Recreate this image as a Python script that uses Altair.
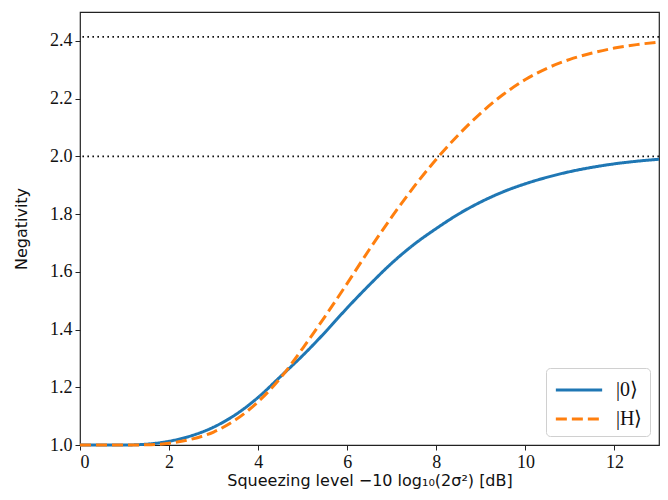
import altair as alt
import pandas as pd

x_vals = [0, 1, 1.5, 2, 2.5, 3, 3.5, 4, 4.5, 5, 5.5, 6, 6.5, 7, 7.5, 8, 8.5, 9, 9.5, 10, 10.5, 11, 11.5, 12, 12.5, 13]
zero_vals = [1.0, 1.0, 1.003, 1.013, 1.032, 1.062, 1.106, 1.165, 1.237, 1.31, 1.39, 1.475, 1.555, 1.63, 1.695, 1.75, 1.80, 1.842, 1.877, 1.905, 1.928, 1.947, 1.962, 1.974, 1.983, 1.99]
h_vals = [1.0, 1.0, 1.001, 1.006, 1.02, 1.045, 1.088, 1.15, 1.232, 1.335, 1.445, 1.56, 1.678, 1.79, 1.895, 1.99, 2.075, 2.15, 2.214, 2.266, 2.306, 2.336, 2.358, 2.375, 2.387, 2.396]
series_names = ["|0⟩", "|H⟩"]
limit_vals = [2.0, 2.414]

rows = []
for xv, a, b in zip(x_vals, zero_vals, h_vals):
    rows.append({"x": xv, "y": a, "state": series_names[0]})
    rows.append({"x": xv, "y": b, "state": series_names[1]})
df = pd.DataFrame(rows)
lim_df = pd.DataFrame({"y": limit_vals})

xscale = alt.Scale(domain=[0, 13], nice=False, zero=False)
yscale = alt.Scale(domain=[1.0, 2.5], nice=False, zero=False)

rules = alt.Chart(lim_df).mark_rule(color="#111", strokeDash=[1.6, 3.4], strokeWidth=1.8).encode(
    y=alt.Y("y:Q", scale=yscale)
)

lines = alt.Chart(df).mark_line(strokeWidth=3, interpolate="monotone").encode(
    x=alt.X("x:Q", scale=xscale,
            axis=alt.Axis(values=[0, 2, 4, 6, 8, 10, 12], format="d",
                          title="Squeezing level −10 log₁₀(2σ²) [dB]")),
    y=alt.Y("y:Q", scale=yscale,
            axis=alt.Axis(values=[1.0, 1.2, 1.4, 1.6, 1.8, 2.0, 2.2, 2.4], format=".1f",
                          title="Negativity")),
    color=alt.Color("state:N", scale=alt.Scale(domain=series_names, range=["#1f77b4", "#ff7f0e"]),
                    legend=alt.Legend(title=None)),
    strokeDash=alt.StrokeDash("state:N", scale=alt.Scale(domain=series_names, range=[[1, 0], [11, 5]]),
                              legend=alt.Legend(title=None)),
)

chart = alt.layer(rules, lines).properties(
    width=579, height=433,
    autosize="none",
    padding={"left": 72, "top": 4, "right": 1, "bottom": 47},
).configure_view(
    stroke="#222", strokeWidth=1.2
).configure_axis(
    grid=False,
    domain=False,
    tickColor="#222",
    tickSize=5,
    tickWidth=1,
    labelFont="Liberation Serif",
    labelFontSize=18,
    labelColor="#111",
    titleFont="DejaVu Sans",
    titleFontSize=16,
    titleFontWeight="normal",
    titleColor="#111",
).configure_axisX(
    labelPadding=3,
    titlePadding=1,
).configure_axisY(
    labelPadding=3,
    titlePadding=20,
).configure_legend(
    orient="bottom-right",
    offset=9,
    fillColor="white",
    strokeColor="#d0d0d0",
    cornerRadius=4,
    padding=7,
    labelFont="Liberation Serif",
    labelFontSize=20,
    labelColor="#111",
    symbolType="M-1.75,0H1.75",
    symbolSize=700,
    symbolStrokeWidth=3,
    symbolOffset=11,
    rowPadding=4,
    labelOffset=22,
)

chart.save("out.html", embed_options={"renderer": "svg", "actions": False})
